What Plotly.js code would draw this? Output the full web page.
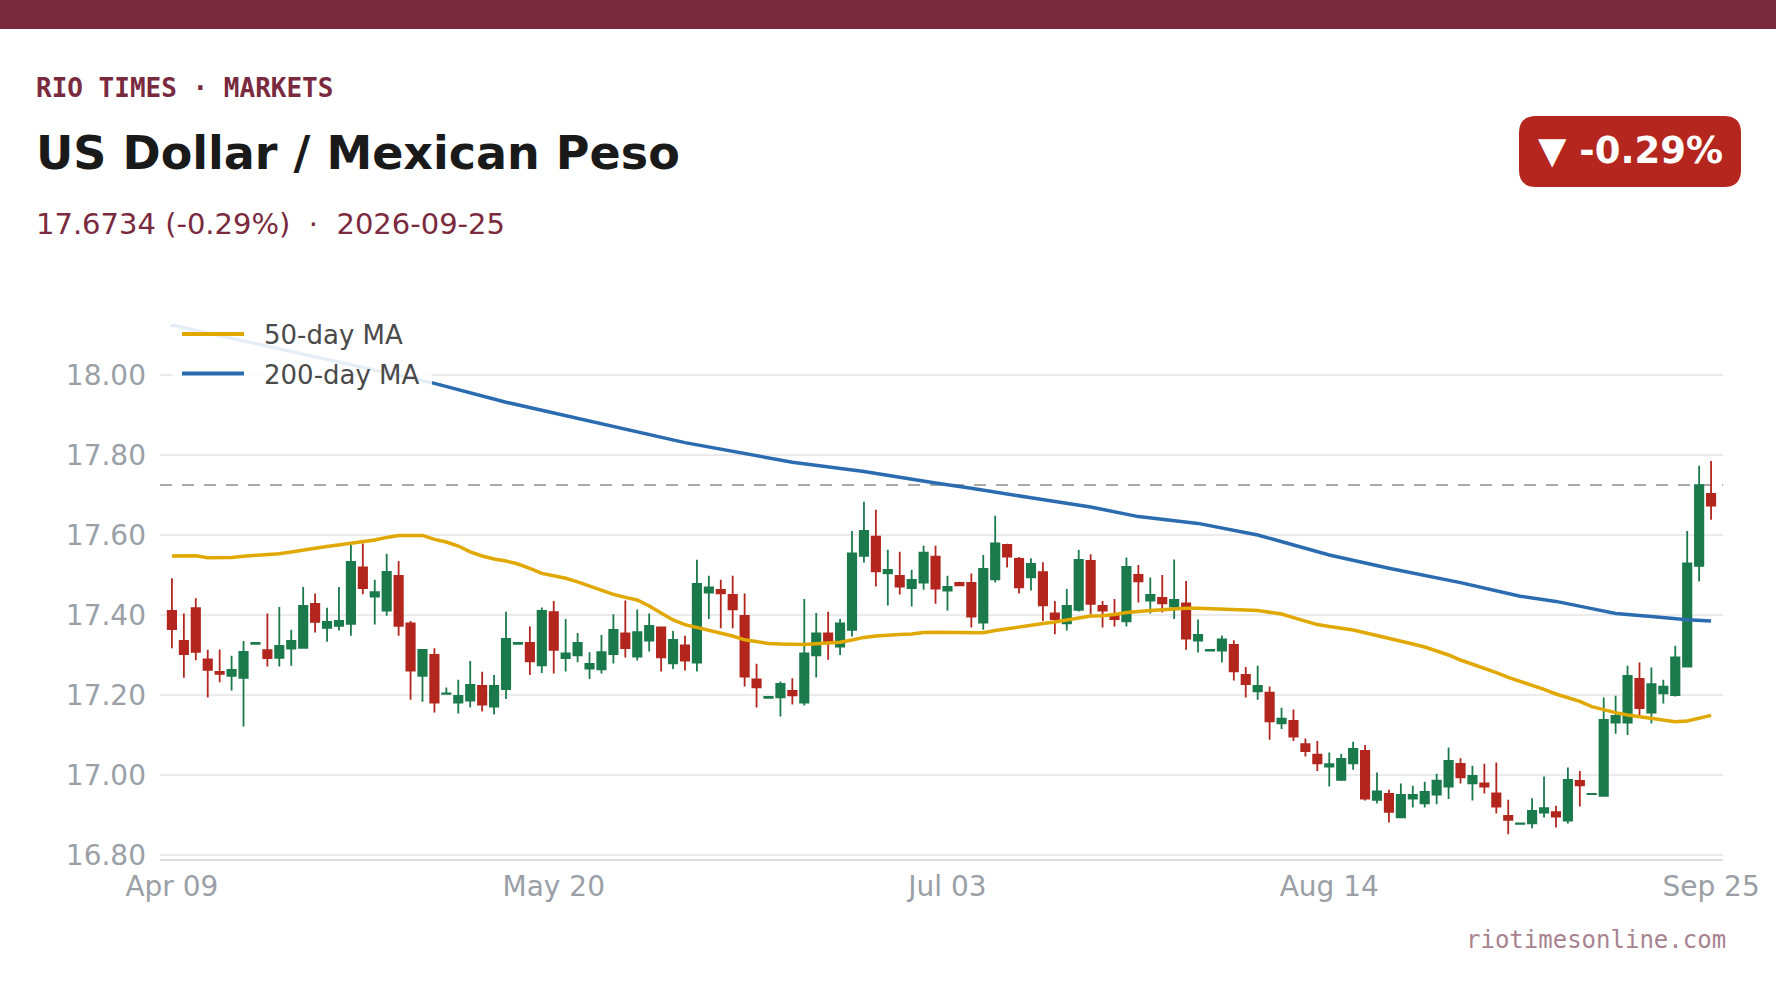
<!DOCTYPE html>
<html>
<head>
<meta charset="utf-8">
<script src="https://cdn.plot.ly/plotly-3.0.1.min.js"></script>
<style>
  html, body { margin: 0; padding: 0; background: #ffffff; }
  #chart { width: 1776px; height: 999px; }
</style>
</head>
<body>
<div id="chart"></div>
<script>
// ---------------- DATA ----------------
const tickLabels = ["Apr 09", "May 20", "Jul 03", "Aug 14", "Sep 25"];
const tickIndex = [0, 32, 65, 97, 129];

const open = [
17.410,17.335,17.417,17.289,17.258,17.248,17.243,17.328,17.312,17.293,
17.316,17.318,17.428,17.368,17.373,17.378,17.519,17.446,17.411,17.498,
17.379,17.248,17.300,17.203,17.181,17.186,17.223,17.171,17.215,17.328,
17.330,17.274,17.407,17.292,17.299,17.266,17.264,17.302,17.354,17.296,
17.336,17.369,17.279,17.324,17.281,17.456,17.463,17.450,17.398,17.239,
17.193,17.194,17.210,17.181,17.299,17.354,17.321,17.363,17.548,17.596,
17.504,17.498,17.467,17.481,17.546,17.461,17.480,17.480,17.381,17.489,
17.575,17.540,17.494,17.507,17.404,17.379,17.413,17.535,17.423,17.400,
17.384,17.500,17.436,17.443,17.421,17.429,17.336,17.311,17.311,17.325,
17.250,17.209,17.206,17.129,17.135,17.077,17.051,17.021,16.988,17.029,
17.060,16.938,16.953,16.894,16.941,16.929,16.951,16.971,17.028,16.979,
16.979,16.954,16.898,16.878,16.879,16.906,16.907,16.886,16.985,16.952,
16.948,17.131,17.131,17.240,17.156,17.204,17.200,17.271,17.523,17.703
];
const high = [
17.492,17.404,17.442,17.313,17.314,17.298,17.335,17.331,17.404,17.420,
17.363,17.470,17.454,17.418,17.470,17.575,17.579,17.488,17.553,17.535,
17.385,17.315,17.317,17.219,17.238,17.285,17.258,17.250,17.408,17.331,
17.371,17.419,17.435,17.390,17.355,17.307,17.350,17.402,17.436,17.414,
17.404,17.371,17.360,17.348,17.538,17.498,17.488,17.498,17.454,17.278,
17.196,17.234,17.242,17.440,17.405,17.408,17.390,17.610,17.683,17.663,
17.563,17.558,17.513,17.573,17.573,17.498,17.483,17.504,17.550,17.648,
17.578,17.545,17.542,17.532,17.435,17.465,17.563,17.552,17.435,17.440,
17.544,17.525,17.494,17.500,17.539,17.485,17.389,17.314,17.349,17.337,
17.270,17.273,17.221,17.168,17.164,17.091,17.085,17.056,17.053,17.083,
17.075,17.006,16.963,16.979,16.973,16.983,17.003,17.069,17.042,17.023,
17.028,17.031,16.938,16.880,16.942,16.996,16.923,17.019,17.010,16.954,
17.194,17.198,17.273,17.281,17.269,17.238,17.323,17.610,17.773,17.785
];
const low = [
17.317,17.243,17.287,17.194,17.232,17.211,17.121,17.327,17.271,17.271,
17.273,17.318,17.356,17.333,17.361,17.348,17.452,17.376,17.398,17.348,
17.188,17.183,17.156,17.202,17.154,17.169,17.159,17.151,17.190,17.327,
17.250,17.255,17.254,17.259,17.282,17.240,17.254,17.279,17.294,17.286,
17.309,17.259,17.265,17.261,17.259,17.390,17.367,17.367,17.221,17.169,
17.192,17.146,17.176,17.174,17.244,17.288,17.300,17.346,17.531,17.471,
17.424,17.451,17.421,17.463,17.428,17.411,17.473,17.369,17.363,17.481,
17.519,17.454,17.461,17.385,17.352,17.361,17.409,17.402,17.369,17.371,
17.371,17.431,17.404,17.406,17.390,17.313,17.306,17.310,17.281,17.236,
17.194,17.188,17.088,17.115,17.085,17.046,17.010,16.971,16.985,17.013,
16.936,16.929,16.881,16.894,16.919,16.919,16.927,16.940,16.979,16.936,
16.954,16.904,16.852,16.877,16.867,16.894,16.869,16.879,16.921,16.951,
16.948,17.103,17.100,17.150,17.129,17.179,17.196,17.269,17.484,17.638
];
const close = [
17.365,17.302,17.308,17.263,17.253,17.263,17.308,17.330,17.292,17.323,
17.335,17.423,17.383,17.383,17.385,17.533,17.467,17.457,17.508,17.373,
17.261,17.313,17.181,17.204,17.198,17.225,17.176,17.223,17.340,17.330,
17.284,17.410,17.313,17.304,17.330,17.278,17.307,17.363,17.317,17.357,
17.373,17.294,17.338,17.286,17.478,17.469,17.454,17.414,17.246,17.219,
17.195,17.228,17.199,17.304,17.354,17.332,17.379,17.554,17.610,17.509,
17.513,17.471,17.488,17.556,17.466,17.470,17.474,17.396,17.515,17.579,
17.546,17.469,17.528,17.424,17.390,17.423,17.538,17.428,17.411,17.390,
17.520,17.484,17.450,17.429,17.438,17.341,17.350,17.313,17.339,17.259,
17.227,17.223,17.134,17.141,17.096,17.060,17.029,17.027,17.040,17.065,
16.941,16.959,16.908,16.950,16.950,16.958,16.986,17.035,16.994,16.998,
16.971,16.921,16.888,16.879,16.910,16.917,16.896,16.988,16.974,16.953,
17.138,17.148,17.248,17.167,17.227,17.221,17.294,17.529,17.7248,17.6734
];
const ma50 = [
17.5475,17.548,17.548,17.543,17.5425,17.544,17.547,17.549,17.551,17.553,
17.5575,17.563,17.567,17.571,17.575,17.580,17.5833,17.5875,17.594,17.599,
17.599,17.599,17.589,17.5825,17.5725,17.558,17.5475,17.540,17.535,17.5275,
17.5167,17.504,17.498,17.4917,17.483,17.4725,17.460,17.4517,17.444,17.4375,
17.4225,17.404,17.3875,17.376,17.369,17.361,17.354,17.3475,17.338,17.3325,
17.329,17.3275,17.326,17.326,17.328,17.329,17.3317,17.3375,17.344,17.3475,
17.350,17.351,17.3525,17.356,17.3567,17.357,17.357,17.3558,17.3558,17.361,
17.366,17.369,17.376,17.379,17.3825,17.3875,17.394,17.3975,17.3983,17.401,
17.406,17.4075,17.411,17.4133,17.416,17.4167,17.4167,17.416,17.416,17.414,
17.4125,17.411,17.4075,17.4025,17.3933,17.384,17.376,17.371,17.3667,17.3625,
17.3558,17.349,17.3433,17.3358,17.3275,17.320,17.3108,17.300,17.2875,17.2775,
17.2667,17.2558,17.244,17.234,17.225,17.214,17.2025,17.1933,17.184,17.171,
17.1625,17.156,17.150,17.1458,17.1417,17.1375,17.1333,17.135,17.1417,17.149
];
const ma200Index = [0, 22, 28, 33, 43, 52, 58, 64, 67, 72, 77, 81, 86, 91, 97, 102, 108, 113, 116, 119, 121, 124, 127, 129];
const ma200 = [18.125, 17.979, 17.932, 17.899, 17.831, 17.782, 17.759, 17.730, 17.717, 17.693, 17.670, 17.646, 17.629, 17.600, 17.550, 17.517, 17.481, 17.447, 17.434, 17.416, 17.404, 17.396, 17.388, 17.385];

const prevClose = close[close.length - 2];
const legendNames = ["50-day MA", "200-day MA"];

// ---------------- STYLE / LAYOUT ----------------
const W = 1776, H = 999;
const M = { l: 160, r: 53, t: 300, b: 140 };
const PW = W - M.l - M.r, PH = H - M.t - M.b;
const X = px => (px - M.l) / PW;
const Y = py => (H - M.b - py) / PH;

const GREEN = "#1b7a4b", RED = "#b3261e", GOLD = "#e0a800", BLUE = "#2b6cb0";
const MAROON = "#7a2a3e";

const idx = open.map((_, i) => i);

const traces = [
  {
    type: "candlestick",
    x: idx, open: open, high: high, low: low, close: close,
    increasing: { line: { color: GREEN, width: 1.8 }, fillcolor: GREEN },
    decreasing: { line: { color: RED, width: 1.8 }, fillcolor: RED },
    whiskerwidth: 0,
    showlegend: false,
    hoverinfo: "skip"
  },
  {
    type: "scatter", mode: "lines", x: idx, y: ma50, name: legendNames[0],
    line: { color: GOLD, width: 3.5 }, showlegend: false, hoverinfo: "skip"
  },
  {
    type: "scatter", mode: "lines", x: ma200Index, y: ma200, name: legendNames[1],
    line: { color: BLUE, width: 3.5 }, showlegend: false, hoverinfo: "skip"
  }
];

function roundRect(x0, y0, x1, y1, r) {
  const p = (x, y) => X(x) + "," + Y(y);
  return "M" + p(x0 + r, y0) + " L" + p(x1 - r, y0) + " Q" + p(x1, y0) + " " + p(x1, y0 + r) +
    " L" + p(x1, y1 - r) + " Q" + p(x1, y1) + " " + p(x1 - r, y1) +
    " L" + p(x0 + r, y1) + " Q" + p(x0, y1) + " " + p(x0, y1 - r) +
    " L" + p(x0, y0 + r) + " Q" + p(x0, y0) + " " + p(x0 + r, y0) + " Z";
}

const shapes = [
  // top bar
  { type: "rect", xref: "paper", yref: "paper", x0: X(0), x1: X(W), y0: Y(0), y1: Y(29),
    fillcolor: MAROON, line: { width: 0 }, layer: "above" },
  // badge
  { type: "path", xref: "paper", yref: "paper", path: roundRect(1519, 116, 1741, 187, 17),
    fillcolor: "#b5261e", line: { width: 0 }, layer: "above" },
  // previous close dashed line
  { type: "line", xref: "paper", yref: "y", x0: 0, x1: 1, y0: prevClose, y1: prevClose,
    line: { color: "#aaaaaa", width: 2, dash: "12px,10px" }, layer: "between" },
  // legend box
  { type: "rect", xref: "paper", yref: "paper", x0: X(172), x1: X(432), y0: Y(311), y1: Y(396),
    fillcolor: "rgba(255,255,255,0.88)", line: { width: 0 }, layer: "above" },
  { type: "line", xref: "paper", yref: "paper", x0: X(182), x1: X(244), y0: Y(334), y1: Y(334),
    line: { color: GOLD, width: 4 }, layer: "above" },
  { type: "line", xref: "paper", yref: "paper", x0: X(182), x1: X(244), y0: Y(373.5), y1: Y(373.5),
    line: { color: BLUE, width: 4 }, layer: "above" }
];

const ann = (text, px, py, xanchor, font) => ({
  text: text, x: X(px), y: Y(py), xref: "paper", yref: "paper",
  xanchor: xanchor, yanchor: "middle", showarrow: false, font: font
});

const annotations = [
  ann("RIO TIMES · MARKETS", 34, 87.5, "left", { family: "DejaVu Sans Mono", size: 26, color: MAROON, weight: "bold" }),
  ann("<b>US Dollar / Mexican Peso</b>", 34, 152.5, "left", { family: "DejaVu Sans", size: 46, color: "#1a1a1a" }),
  ann("17.6734 (-0.29%)\u00a0\u00a0·\u00a0\u00a02026-09-25", 34, 224.5, "left", { family: "DejaVu Sans", size: 29, color: MAROON }),
  ann("<b>▼ -0.29%</b>", 1630, 150.5, "center", { family: "DejaVu Sans", size: 37, color: "#ffffff" }),
  ann(legendNames[0], 262, 335, "left", { family: "DejaVu Sans", size: 26, color: "#4a4a4a" }),
  ann(legendNames[1], 262, 374.5, "left", { family: "DejaVu Sans", size: 26, color: "#4a4a4a" }),
  ann("riotimesonline.com", 1728, 940, "right", { family: "DejaVu Sans Mono", size: 24, color: "#a8838f" })
];

const yTicks = [16.8, 17.0, 17.2, 17.4, 17.6, 17.8, 18.0];

const layout = {
  width: W, height: H,
  margin: M,
  paper_bgcolor: "#ffffff", plot_bgcolor: "#ffffff",
  showlegend: false,
  font: { family: "DejaVu Sans", color: "#9aa0a6" },
  xaxis: {
    type: "linear", range: [-1, 130],
    tickvals: tickIndex, ticktext: tickLabels,
    showgrid: false, zeroline: false,
    showline: true, linecolor: "#dcdcdc", linewidth: 1.5,
    ticks: "", ticklabelstandoff: 2,
    tickfont: { family: "DejaVu Sans", size: 28, color: "#9aa0a6" },
    rangeslider: { visible: false },
    fixedrange: true
  },
  yaxis: {
    range: [16.79, 18.1875],
    tickvals: yTicks, ticktext: yTicks.map(v => v.toFixed(2)),
    showgrid: true, gridcolor: "#ebebeb", gridwidth: 1.5,
    zeroline: false, showline: false,
    ticks: "", ticklabelstandoff: 13,
    tickfont: { family: "DejaVu Sans", size: 28, color: "#9aa0a6" },
    fixedrange: true
  },
  boxgap: 0,
  shapes: shapes,
  annotations: annotations
};

Plotly.newPlot("chart", traces, layout, { displayModeBar: false, staticPlot: true });
</script>
</body>
</html>
